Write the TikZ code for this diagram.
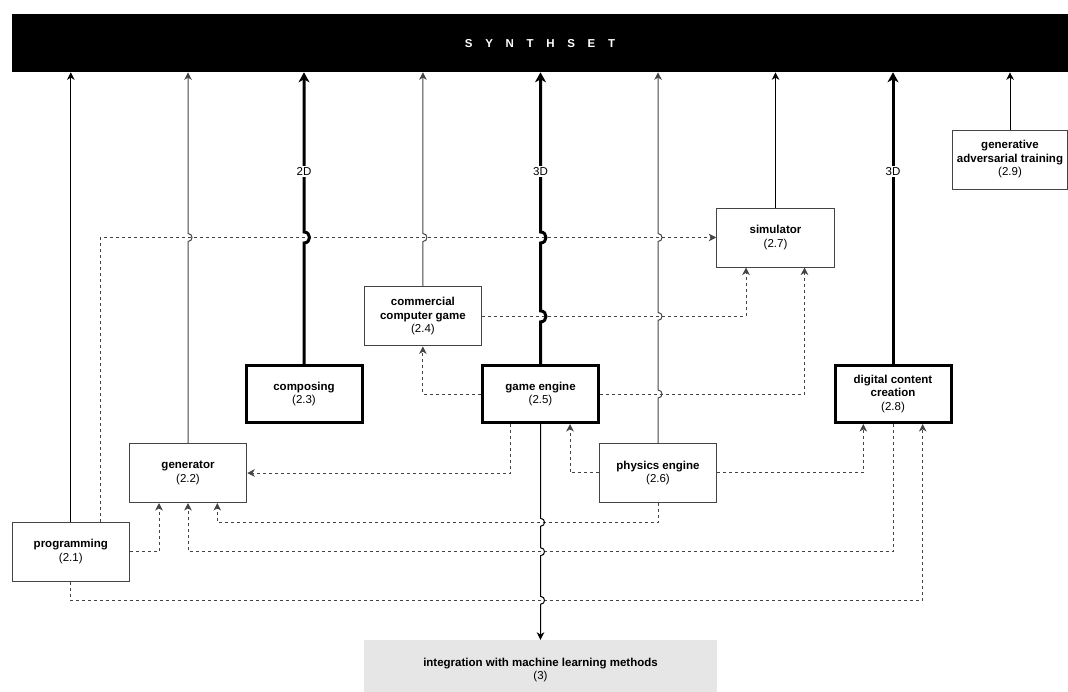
\documentclass[tikz,border=0pt]{standalone}
\usepackage{fontspec}
\setmainfont{Liberation Sans}
\usetikzlibrary{arrows.meta}
\definecolor{ln}{HTML}{444444}
\definecolor{mlgray}{HTML}{E6E6E6}
\newcommand\lsp{\hspace{12.7pt}}
\newcommand\jU[3]{-- ([yshift=-#3pt]#1 |- #2) .. controls +(1.33*#3,0) and +(1.33*#3,0) .. ([yshift=#3pt]#1 |- #2)}
\newcommand\jD[3]{-- ([yshift=#3pt]#1 |- #2) .. controls +(1.33*#3,0) and +(1.33*#3,0) .. ([yshift=-#3pt]#1 |- #2)}
\begin{document}
\begin{tikzpicture}[x=1pt,y=-1pt,
  txt/.style={font=\fontsize{11.5}{13.5}\selectfont, align=center},
  box/.style={txt, draw=ln, line width=1pt, fill=white, minimum width=117.5pt, minimum height=59pt, inner sep=1pt},
  tbox/.style={txt, draw=black, line width=3pt, fill=white, minimum width=116pt, minimum height=57pt, inner sep=1pt},
  uln/.style={draw=ln, line width=1pt, -{Stealth[length=7.5pt,width=7.5pt,inset=2.2pt]}},
  tln/.style={draw=black, line width=3pt, -{Stealth[length=10pt,width=11pt,inset=3pt]}},
  dln/.style={draw=ln, line width=1pt, dash pattern=on 3pt off 3pt, -{Stealth[length=7.5pt,width=7.5pt,inset=2.2pt]}},
  lbl/.style={txt, fill=white, inner sep=1.5pt}]
\useasboundingbox (0,0) rectangle (1068,691);
\coordinate (lvA) at (0,522.3);
\coordinate (lvC) at (0,600.3);
\coordinate (lvL) at (0,171.7);

\node[fill=black, inner sep=0, outer sep=0, minimum width=1056pt, minimum height=58.5pt, text=white, font=\fontsize{11.5}{13}\selectfont\bfseries] (bar) at (540,43.05) {S\lsp Y\lsp N\lsp T\lsp H\lsp S\lsp E\lsp T};

\node[box] (prog) at (70.8,551.7) {\textbf{programming}\\(2.1)};
\node[box] (gen) at (188,473) {\textbf{generator}\\(2.2)};
\node[tbox] (comp) at (304,394) {\textbf{composing}\\(2.3)};
\node[box] (comm) at (422.9,316.4) {\textbf{commercial}\\\textbf{computer game}\\(2.4)};
\node[tbox] (game) at (540.5,394) {\textbf{game engine}\\(2.5)};
\node[box] (phys) at (658,472.8) {\textbf{physics engine}\\(2.6)};
\node[box] (sim) at (775.5,237.5) {\textbf{simulator}\\(2.7)};
\node[tbox] (dig) at (893,394) {\textbf{digital content}\\\textbf{creation}\\(2.8)};
\node[box, minimum width=115pt] (gan) at (1010,159.5) {\textbf{generative}\\\textbf{adversarial training}\\(2.9)};
\node[txt, fill=mlgray, minimum width=353pt, minimum height=60pt, inner sep=0] (ml) at (540.5,670) {\textbf{integration with machine learning methods}\\(3)};

% dashed connectors
\draw[dln] ([xshift=29.2pt]prog.north) |- (sim.west);
\draw[dln] (comm.east) -| ([xshift=-29.5pt]sim.south);
\draw[dln] (game.east) -| ([xshift=29pt]sim.south);
\draw[dln] (game.west) -| (comm.south);
\draw[dln] ([xshift=-30pt]game.south) |- (gen.east);
\draw[dln] (phys.west) -| ([xshift=29.5pt]game.south);
\draw[dln] (phys.east) -| ([xshift=-29.7pt]dig.south);
\draw[dln] (phys.south) -- (phys.south |- lvA) -| ([xshift=29.3pt]gen.south);
\draw[dln] (dig.south) -- (dig.south |- prog.east) -| (gen.south);
\draw[dln] (prog.east) -| ([xshift=-29pt]gen.south);
\draw[dln] (prog.south) -- (prog.south |- lvC) -| ([xshift=29.7pt]dig.south);

% vertical connectors to SYNTHSET
\draw[uln, draw=black] (prog.north) -- (prog.north |- bar.south);
\draw[uln] (gen.north) \jU{gen.north}{sim.west}{4} -- (gen.north |- bar.south);
\draw[tln] (comp.north) \jU{comp.north}{sim.west}{5.5} -- (comp.north |- bar.south);
\node[lbl] at (comp.north |- lvL) {2D};
\draw[uln] (comm.north) \jU{comm.north}{sim.west}{4} -- (comm.north |- bar.south);
\draw[tln] (game.north) \jU{game.north}{comm.east}{5.5} \jU{game.north}{sim.west}{5.5} -- (game.north |- bar.south);
\node[lbl] at (game.north |- lvL) {3D};
\draw[uln] (phys.north) \jU{phys.north}{game.east}{4} \jU{phys.north}{comm.east}{4} \jU{phys.north}{sim.west}{4} -- (phys.north |- bar.south);
\draw[uln, draw=black] (sim.north) -- (sim.north |- bar.south);
\draw[tln] (dig.north) -- (dig.north |- bar.south);
\node[lbl] at (dig.north |- lvL) {3D};
\draw[uln, draw=black] (gan.north) -- (gan.north |- bar.south);

% down to machine learning
\draw[uln, draw=black] (game.south) \jD{game.south}{lvA}{4} \jD{game.south}{prog.east}{4} \jD{game.south}{lvC}{4} -- (ml.north);
\end{tikzpicture}
\end{document}
